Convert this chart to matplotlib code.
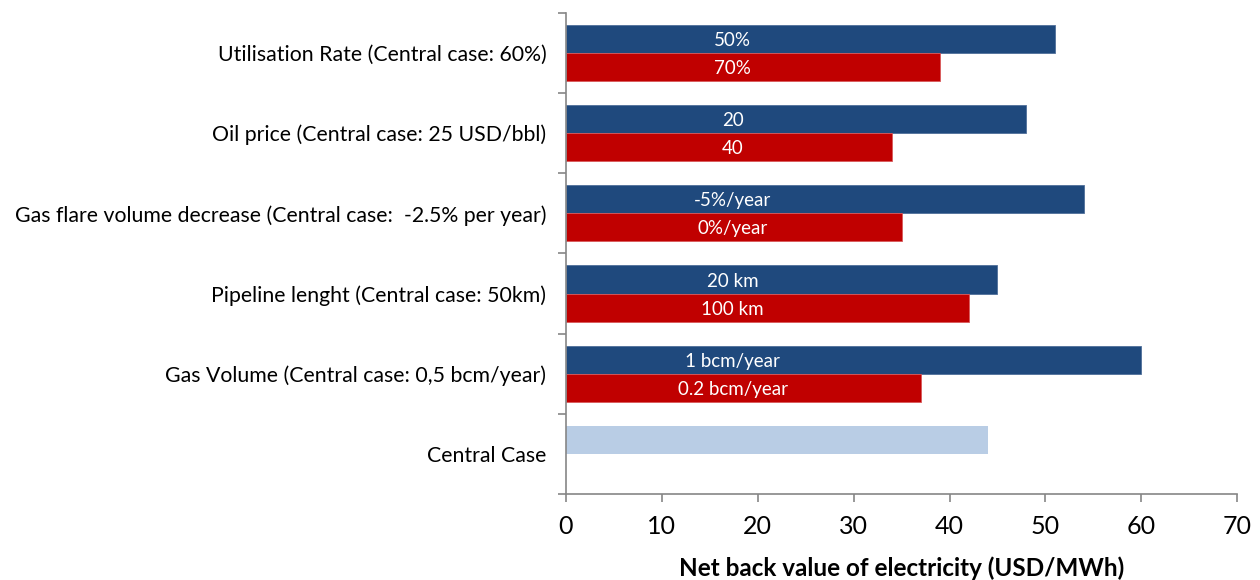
import numpy as np
import matplotlib.pyplot as plt

plt.rcParams['font.family'] = ['Lato', 'DejaVu Sans']

# ============================================================
# DATA
# ============================================================

categories = [
    "Utilisation Rate (Central case: 60%)",
    "Oil price (Central case: 25 USD/bbl)",
    "Gas flare volume decrease (Central case:  -2.5% per year)",
    "Pipeline lenght (Central case: 50km)",
    "Gas Volume (Central case: 0,5 bcm/year)",
    "Central Case",
]
high_values = [51, 48, 54, 45, 60]
low_values = [39, 34, 35, 42, 37]
high_labels = ["50%", "20", "-5%/year", "20 km", "1 bcm/year"]
low_labels = ["70%", "40", "0%/year", "100 km", "0.2 bcm/year"]
central_value = 44

BLUE = "#1F497D"
RED = "#C00000"
LIGHT = "#B9CDE5"
GREY = "#868686"

# ============================================================
# PLOT
# ============================================================

fig = plt.figure(figsize=(12.6, 5.8), dpi=100)
ax = fig.add_axes([0.449, 0.148, 0.533, 0.830])

n = len(categories)
y = np.arange(n)
h = 0.35
ys = y[:len(high_values)]

ax.barh(ys - h / 2, high_values, height=h, color=BLUE, edgecolor="#4F6F9A", linewidth=0.6)
ax.barh(ys + h / 2, low_values, height=h, color=RED, edgecolor="#D9595A", linewidth=0.6)
ax.barh([y[-1] - h / 2], [central_value], height=h, color=LIGHT)

# value labels sit at a common x, like in the source chart
label_x = 17.4
for yi, txt in zip(ys, high_labels):
    ax.text(label_x, yi - h / 2 + 0.02, txt, color="white", ha="center", va="center", fontsize=13.5)
for yi, txt in zip(ys, low_labels):
    ax.text(label_x, yi + h / 2 + 0.02, txt, color="white", ha="center", va="center", fontsize=13.5)

ax.set_ylim(n - 0.5, -0.5)
ax.set_xlim(0, 70)
ax.set_xticks(np.arange(0, 71, 10))
ax.tick_params(axis="x", labelsize=18, colors=GREY, labelcolor="black", length=6, width=1.2, pad=9)

ax.set_yticks(y)
ax.set_yticklabels(categories, fontsize=15.3)
ax.tick_params(axis="y", length=0, pad=14)
ax.set_yticks(np.arange(-0.5, n, 1.0), minor=True)
ax.tick_params(axis="y", which="minor", length=6, width=1.2, colors=GREY)

for s in ["top", "right"]:
    ax.spines[s].set_visible(False)
for s in ["left", "bottom"]:
    ax.spines[s].set_color(GREY)
    ax.spines[s].set_linewidth(1.2)

ax.set_xlabel("Net back value of electricity (USD/MWh)", fontsize=17.5, fontweight="bold", labelpad=13)

fig.savefig("out.png", dpi=100)
